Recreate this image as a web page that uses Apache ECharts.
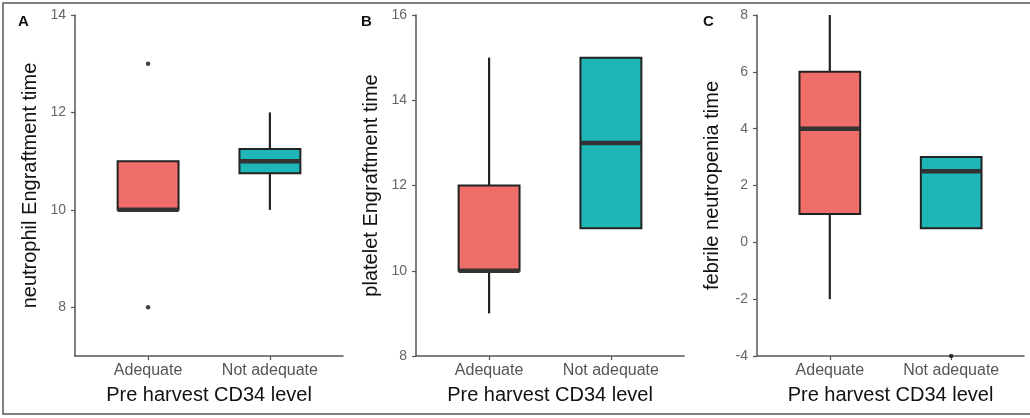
<!DOCTYPE html>
<html>
<head>
<meta charset="utf-8">
<script src="https://cdn.jsdelivr.net/npm/echarts@6/dist/echarts.min.js"></script>
<style>html,body{margin:0;padding:0;background:#fff;}#c{width:1030px;height:418px;}</style>
</head>
<body>
<div id="c"></div>
<script>
// ---- data ----
var categories = ['Adequate', 'Not adequate'];
// [min, Q1, median, Q3, max] per category
var neutrophilBox = [[10, 10, 10, 11, 11], [10, 10.75, 11, 11.25, 12]];
var neutrophilOutliers = [[8, 13], []];
var plateletBox = [[9, 10, 10, 12, 15], [11, 11, 13, 15, 15]];
var plateletOutliers = [[], []];
var febrileBox = [[-2, 1, 4, 6, 8], [0.5, 0.5, 2.5, 3, 3]];
var febrileOutliers = [[], [-4]];
var neutrophilTicks = [8, 10, 12, 14];
var plateletTicks = [8, 10, 12, 14, 16];
var febrileTicks = [-4, -2, 0, 2, 4, 6, 8];
var panelLetters = ['A', 'B', 'C'];
var yTitles = ['neutrophil Engraftment time', 'platelet Engraftment time', 'febrile neutropenia time'];
var xTitle = 'Pre harvest CD34 level';

var fillColors = ['#F06E69', '#1FB6B7'];
var FONT = 'Liberation Sans, Arial, sans-serif';

var chart = echarts.init(document.getElementById('c'));

var panels = [
  {box: neutrophilBox, out: neutrophilOutliers, ticks: neutrophilTicks, min: 7, max: 14, left: 75, right: 1030 - 343},
  {box: plateletBox, out: plateletOutliers, ticks: plateletTicks, min: 8, max: 16, left: 416, right: 1030 - 684},
  {box: febrileBox, out: febrileOutliers, ticks: febrileTicks, min: -4, max: 8, left: 757, right: 1030 - 1024}
];

var grids = [], xAxes = [], yAxes = [], series = [];
panels.forEach(function (p, i) {
  grids.push({left: p.left, right: p.right, top: 15, bottom: 418 - 356, containLabel: false});
  xAxes.push({
    type: 'value', gridIndex: i, min: 0.4, max: 2.6,
    splitLine: {show: false},
    axisLine: {show: true, onZero: false, lineStyle: {color: '#555', width: 1.5}},
    axisTick: {show: true, customValues: [1, 2], length: 4, lineStyle: {color: '#555', width: 1.2}},
    axisLabel: {show: true, customValues: [1, 2], margin: 7, color: '#555', fontSize: 16, fontFamily: FONT,
      formatter: function (v) { return categories[Math.round(v) - 1] || ''; }},
    name: xTitle, nameLocation: 'middle', nameGap: 29,
    nameTextStyle: {color: '#111', fontSize: 20, fontFamily: FONT}
  });
  yAxes.push({
    type: 'value', gridIndex: i, min: p.min, max: p.max,
    splitLine: {show: false},
    axisLine: {show: true, onZero: false, lineStyle: {color: '#555', width: 1.5}},
    axisTick: {show: true, customValues: p.ticks, length: 4, lineStyle: {color: '#555', width: 1.2}},
    axisLabel: {show: true, customValues: p.ticks, margin: 9, color: '#666', fontSize: 14, fontFamily: FONT},
    name: yTitles[i], nameLocation: 'middle', nameGap: 35,
    nameTextStyle: {color: '#111', fontSize: 20, fontFamily: FONT}
  });
  var boxData = p.box.map(function (b, k) { return [k + 1].concat(b); });
  series.push({
    type: 'custom', xAxisIndex: i, yAxisIndex: i, silent: true,
    data: boxData,
    encode: {x: 0, y: [1, 2, 3, 4, 5]},
    renderItem: function (params, api) {
      var x = api.value(0);
      var pMin = api.coord([x, api.value(1)]);
      var pQ1 = api.coord([x, api.value(2)]);
      var pMed = api.coord([x, api.value(3)]);
      var pQ3 = api.coord([x, api.value(4)]);
      var pMax = api.coord([x, api.value(5)]);
      var w = api.size([0.5, 0])[0];
      var cx = pMed[0];
      var children = [];
      if (pMax[1] < pQ3[1]) children.push({type: 'line', shape: {x1: cx, y1: pMax[1], x2: cx, y2: pQ3[1]}, style: {stroke: '#222', lineWidth: 2.2}});
      if (pMin[1] > pQ1[1]) children.push({type: 'line', shape: {x1: cx, y1: pQ1[1], x2: cx, y2: pMin[1]}, style: {stroke: '#222', lineWidth: 2.2}});
      children.push({type: 'rect', shape: {x: cx - w / 2, y: pQ3[1], width: w, height: pQ1[1] - pQ3[1]},
        style: {fill: fillColors[params.dataIndex], stroke: '#222', lineWidth: 2}});
      children.push({type: 'line', shape: {x1: cx - w / 2, y1: pMed[1], x2: cx + w / 2, y2: pMed[1]}, style: {stroke: '#333', lineWidth: 4.5}});
      return {type: 'group', children: children};
    },
    z: 2
  });
  var outData = [];
  p.out.forEach(function (arr, k) { arr.forEach(function (v) { outData.push([k + 1, v]); }); });
  series.push({
    type: 'scatter', xAxisIndex: i, yAxisIndex: i, silent: true,
    data: outData, symbolSize: 4.5, itemStyle: {color: '#111'}, z: 3
  });
});

var graphics = [
  {type: 'rect', shape: {x: 3, y: 3, width: 1040, height: 411}, style: {fill: null, stroke: '#555', lineWidth: 1.5}, silent: true}
];
var letterX = [18, 361, 703];
panelLetters.forEach(function (L, i) {
  graphics.push({type: 'text', left: letterX[i], top: 14, style: {text: L, font: 'bold 15px ' + FONT, fill: '#111'}});
});

chart.setOption({
  animation: false,
  backgroundColor: '#fff',
  grid: grids,
  xAxis: xAxes,
  yAxis: yAxes,
  series: series,
  graphic: graphics
});
</script>
</body>
</html>
